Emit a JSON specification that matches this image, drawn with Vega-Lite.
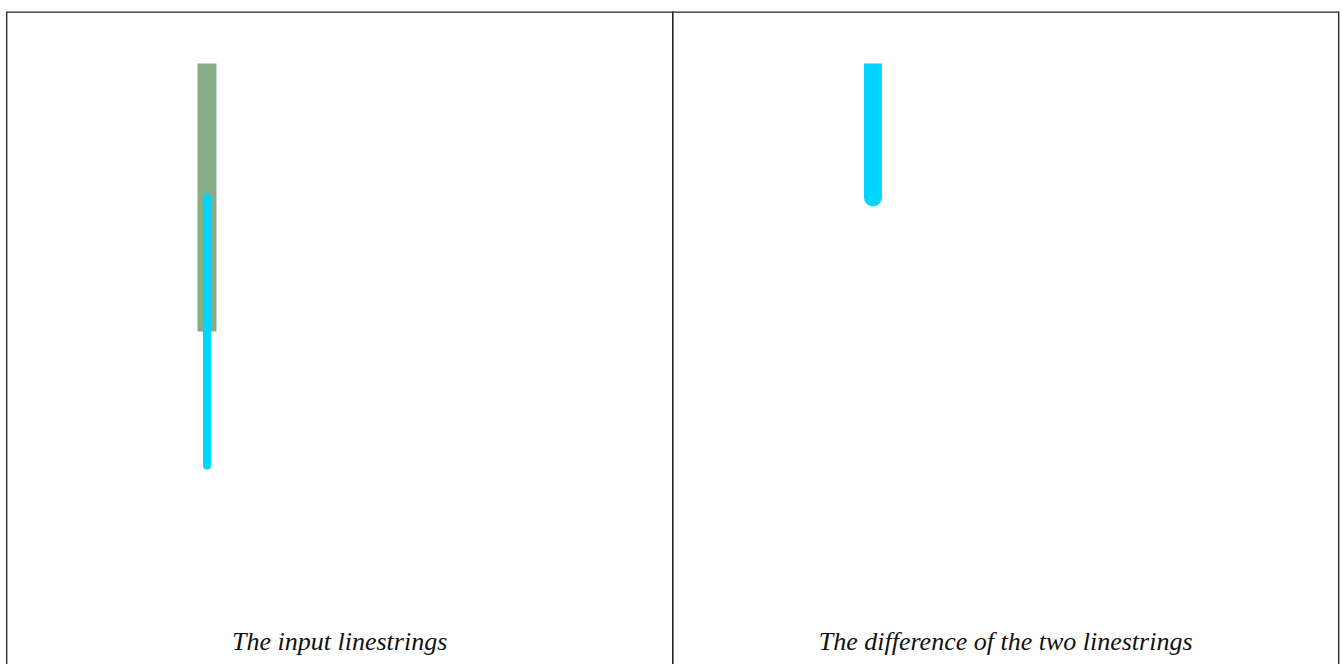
{
  "$schema": "https://vega.github.io/schema/vega-lite/v6.json",
  "padding": {"left": 5.5, "top": 11, "right": 0, "bottom": 0},
  "background": "white",
  "spacing": 0,
  "bounds": "flush",
  "config": {"view": {"stroke": "#222", "strokeWidth": 1.3}},
  "datasets": {
    "lineA": [{"x": 0, "y": 0}, {"x": 0, "y": 2}],
    "lineB": [{"x": 0, "y": 1}, {"x": 0, "y": 3}],
    "diff": [{"x": 0, "y": 0}, {"x": 0, "y": 1}],
    "diffEnd": [{"x": 0, "y": 1}],
    "cap1": [{"x": 0.99, "y": 4.32, "label": "The input linestrings"}],
    "cap2": [{"x": 0.99, "y": 4.32, "label": "The difference of the two linestrings"}]
  },
  "hconcat": [
    {
      "width": 666,
      "height": 660,
      "layer": [
        {
          "data": {"name": "lineA"},
          "mark": {"type": "line", "color": "#88AE88", "strokeWidth": 19, "strokeCap": "butt"},
          "encoding": {
            "x": {"field": "x", "type": "quantitative", "scale": {"domain": [-1.496, 3.474]}, "axis": null},
            "y": {"field": "y", "type": "quantitative", "scale": {"domain": [-0.384, 4.541], "reverse": true}, "axis": null},
            "order": {"field": "y"}
          }
        },
        {
          "data": {"name": "lineB"},
          "mark": {"type": "line", "color": "#00D5FF", "strokeWidth": 8, "strokeCap": "round"},
          "encoding": {
            "x": {"field": "x", "type": "quantitative", "scale": {"domain": [-1.496, 3.474]}, "axis": null},
            "y": {"field": "y", "type": "quantitative", "scale": {"domain": [-0.384, 4.541], "reverse": true}, "axis": null},
            "order": {"field": "y"}
          }
        },
        {
          "data": {"name": "cap1"},
          "mark": {"type": "text", "font": "Liberation Serif", "fontStyle": "italic", "fontSize": 26, "color": "#111", "align": "center", "baseline": "middle"},
          "encoding": {
            "x": {"field": "x", "type": "quantitative", "scale": {"domain": [-1.496, 3.474]}, "axis": null},
            "y": {"field": "y", "type": "quantitative", "scale": {"domain": [-0.384, 4.541], "reverse": true}, "axis": null},
            "text": {"field": "label"}
          }
        }
      ]
    },
    {
      "width": 666,
      "height": 660,
      "layer": [
        {
          "data": {"name": "diff"},
          "mark": {"type": "line", "color": "#00D5FF", "strokeWidth": 18, "strokeCap": "butt"},
          "encoding": {
            "x": {"field": "x", "type": "quantitative", "scale": {"domain": [-1.496, 3.474]}, "axis": null},
            "y": {"field": "y", "type": "quantitative", "scale": {"domain": [-0.384, 4.541], "reverse": true}, "axis": null},
            "order": {"field": "y"}
          }
        },
        {
          "data": {"name": "diffEnd"},
          "mark": {"type": "point", "shape": "circle", "filled": true, "color": "#00D5FF", "size": 324, "opacity": 1},
          "encoding": {
            "x": {"field": "x", "type": "quantitative", "scale": {"domain": [-1.496, 3.474]}, "axis": null},
            "y": {"field": "y", "type": "quantitative", "scale": {"domain": [-0.384, 4.541], "reverse": true}, "axis": null}
          }
        },
        {
          "data": {"name": "cap2"},
          "mark": {"type": "text", "font": "Liberation Serif", "fontStyle": "italic", "fontSize": 26, "color": "#111", "align": "center", "baseline": "middle"},
          "encoding": {
            "x": {"field": "x", "type": "quantitative", "scale": {"domain": [-1.496, 3.474]}, "axis": null},
            "y": {"field": "y", "type": "quantitative", "scale": {"domain": [-0.384, 4.541], "reverse": true}, "axis": null},
            "text": {"field": "label"}
          }
        }
      ]
    }
  ]
}
